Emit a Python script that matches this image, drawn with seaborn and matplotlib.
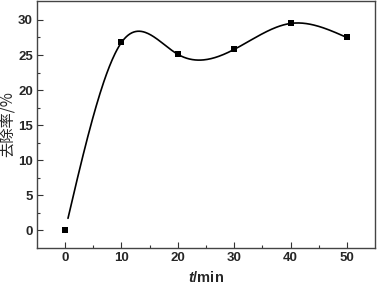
import numpy as np
import pandas as pd
import matplotlib
matplotlib.use("Agg")
import matplotlib.pyplot as plt
import seaborn as sns

# data
time_min = [0, 10, 20, 30, 40, 50]
removal = [0.0, 26.8, 25.1, 25.8, 29.5, 27.5]


def natural_spline(x, y, n=300):
    # natural cubic spline used only as a smooth connector between points
    x = np.asarray(x, float)
    y = np.asarray(y, float)
    k = len(x)
    h = np.diff(x)
    A = np.zeros((k, k))
    b = np.zeros(k)
    A[0, 0] = A[-1, -1] = 1
    for i in range(1, k - 1):
        A[i, i - 1] = h[i - 1]
        A[i, i] = 2 * (h[i - 1] + h[i])
        A[i, i + 1] = h[i]
        b[i] = 6 * ((y[i + 1] - y[i]) / h[i] - (y[i] - y[i - 1]) / h[i - 1])
    m = np.linalg.solve(A, b)
    xs = np.linspace(x[0], x[-1], n)
    idx = np.clip(np.searchsorted(x, xs) - 1, 0, k - 2)
    t0, t1 = x[idx], x[idx + 1]
    hh = t1 - t0
    ys = (m[idx] * (t1 - xs) ** 3 / (6 * hh) + m[idx + 1] * (xs - t0) ** 3 / (6 * hh)
          + (y[idx] / hh - m[idx] * hh / 6) * (t1 - xs)
          + (y[idx + 1] / hh - m[idx + 1] * hh / 6) * (xs - t0))
    return xs, ys


sns.set_theme(style="white")
plt.rcParams["font.family"] = ["Liberation Sans", "Noto Sans CJK SC", "DejaVu Sans"]
plt.rcParams["mathtext.fontset"] = "custom"
plt.rcParams["mathtext.it"] = "Liberation Sans:italic:bold"
plt.rcParams["mathtext.rm"] = "Liberation Sans:bold"

df = pd.DataFrame({"t": time_min, "r": removal})
xs, ys = natural_spline(time_min, removal)
curve = pd.DataFrame({"t": xs, "r": ys})
curve = curve[curve["t"] > 0.35]

fig = plt.figure(figsize=(3.77, 2.88), dpi=100)
ax = fig.add_axes([37 / 377, 1 - 248 / 288, (375 - 37) / 377, (248 - 1) / 288])

sns.lineplot(data=curve, x="t", y="r", ax=ax, color="black", lw=1.2, sort=False)
sns.scatterplot(data=df, x="t", y="r", ax=ax, marker="s", color="black", s=22,
                edgecolor="black", linewidth=0, zorder=3)

ax.set_xlim(-5, 55)
ax.set_ylim(-2.5, 32.7)
ax.set_xticks(time_min)
ax.set_yticks([0, 5, 10, 15, 20, 25, 30])
ax.set_xticks(np.arange(5, 50, 10), minor=True)
ax.set_yticks(np.arange(2.5, 30, 5), minor=True)
ax.tick_params(which="both", direction="in", top=False, right=False,
               bottom=True, left=True, color="#333333", width=0.8)
ax.tick_params(which="major", length=4, labelsize=9.5, pad=3)
ax.tick_params(which="minor", length=2)
for lab in ax.get_xticklabels() + ax.get_yticklabels():
    lab.set_fontweight("bold")
for sp in ax.spines.values():
    sp.set_color("#444444")
    sp.set_linewidth(1.0)

ax.set_xlabel("$t$/min", fontsize=10.5, fontweight="bold", labelpad=4)
ax.set_ylabel("去除率/%", fontsize=11, family=["Noto Sans CJK SC", "Liberation Sans"])
ax.yaxis.set_label_coords(-0.062, 0.5)

fig.savefig("out.png", dpi=100)
